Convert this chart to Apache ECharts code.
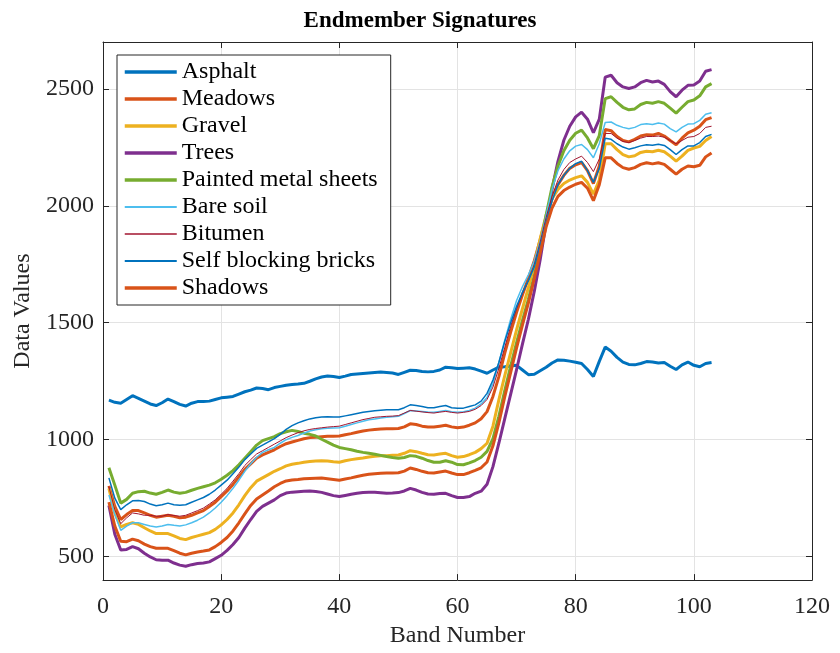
<!DOCTYPE html>
<html>
<head>
<meta charset="utf-8">
<script src="https://cdn.jsdelivr.net/npm/echarts@6/dist/echarts.min.js"></script>
<style>
html,body{margin:0;padding:0;background:#fff;}
#chart{width:840px;height:653px;}
</style>
</head>
<body>
<div id="chart"></div>
<script>
// Band numbers (x values)
var bands = Array.from({length: 103}, function (_, i) { return i + 1; });

var seriesNames = ['Asphalt', 'Meadows', 'Gravel', 'Trees', 'Painted metal sheets',
  'Bare soil', 'Bitumen', 'Self blocking bricks', 'Shadows'];

var asphalt = [1169,1160,1156,1172,1188,1177,1165,1153,1146,1158,
  1174,1163,1151,1144,1156,1163,1163,1165,1172,1179,
  1182,1185,1195,1205,1212,1221,1219,1214,1223,1228,
  1233,1236,1238,1241,1250,1260,1268,1272,1270,1266,
  1272,1279,1281,1283,1285,1287,1289,1287,1285,1279,
  1288,1297,1296,1292,1290,1292,1298,1310,1308,1304,
  1306,1308,1302,1293,1284,1298,1310,1312,1315,1318,
  1298,1278,1280,1295,1310,1328,1341,1340,1336,1331,
  1326,1300,1270,1335,1396,1378,1352,1332,1322,1320,
  1326,1334,1332,1328,1330,1314,1300,1320,1332,1318,
  1312,1326,1330];

var meadows = [803,715,659,680,697,697,687,677,669,673,
  677,673,666,669,677,687,697,715,733,757,
  781,809,841,873,897,921,935,946,957,971,
  983,990,997,1004,1009,1011,1013,1015,1015,1016,
  1021,1026,1032,1037,1041,1044,1046,1047,1047,1048,
  1055,1068,1065,1058,1054,1054,1058,1062,1055,1051,
  1054,1062,1072,1090,1120,1185,1270,1370,1460,1545,
  1620,1690,1765,1855,1950,2030,2090,2130,2160,2175,
  2185,2150,2095,2170,2326,2321,2296,2279,2273,2284,
  2298,2304,2302,2309,2298,2279,2261,2289,2312,2323,
  2340,2368,2377];

var gravel = [792,687,627,638,645,638,624,610,599,599,
  599,589,578,573,582,589,596,603,617,636,
  659,687,722,761,795,823,837,851,865,876,
  888,895,899,904,907,909,910,909,906,904,
  910,915,919,922,926,929,931,932,934,935,
  942,953,949,942,936,935,939,942,932,925,
  928,936,946,962,985,1058,1170,1274,1372,1470,
  1561,1650,1750,1860,1960,2030,2070,2095,2110,2120,
  2128,2100,2050,2110,2265,2265,2240,2219,2209,2214,
  2228,2233,2231,2237,2231,2212,2191,2212,2237,2247,
  2254,2279,2296];

var trees = [719,596,529,531,543,534,515,499,487,485,
  485,473,464,459,466,471,473,478,492,506,
  527,552,582,622,659,694,715,729,743,761,
  772,776,778,780,781,779,775,768,761,757,
  762,767,771,774,775,775,773,771,772,774,
  781,792,785,775,768,767,770,771,761,753,
  753,757,771,780,810,885,985,1090,1195,1300,
  1410,1515,1635,1770,1925,2070,2190,2280,2340,2380,
  2400,2370,2312,2370,2550,2558,2526,2508,2501,2508,
  2526,2536,2529,2533,2519,2488,2466,2494,2515,2516,
  2533,2575,2582];

var paintedMetal = [880,806,729,745,771,778,780,772,767,775,
  785,776,771,775,784,792,799,806,816,831,
  848,868,893,921,949,977,996,1005,1013,1026,
  1034,1040,1035,1028,1023,1016,1002,990,977,967,
  962,957,951,946,942,938,933,928,924,921,
  924,932,929,921,911,904,904,910,904,894,
  893,901,911,925,950,1005,1100,1210,1315,1415,
  1510,1600,1700,1820,1960,2080,2170,2235,2280,2310,
  2323,2290,2244,2300,2458,2466,2442,2421,2410,2414,
  2433,2442,2438,2445,2438,2417,2396,2421,2445,2452,
  2470,2508,2522];

var bareSoil = [764,680,613,631,645,645,638,631,627,631,
  638,634,631,636,645,656,669,687,708,733,
  761,792,827,865,897,925,946,957,967,985,
  1000,1010,1018,1028,1037,1043,1047,1049,1050,1051,
  1058,1065,1072,1079,1085,1089,1093,1096,1098,1100,
  1112,1125,1123,1121,1118,1117,1121,1125,1120,1117,
  1120,1125,1135,1153,1180,1240,1330,1425,1515,1595,
  1655,1705,1765,1850,1960,2070,2150,2200,2235,2255,
  2262,2240,2205,2265,2356,2358,2344,2335,2329,2335,
  2347,2351,2347,2354,2349,2330,2316,2335,2349,2351,
  2365,2391,2398];

var bitumen = [799,701,641,666,687,683,677,677,673,673,
  680,676,673,677,687,697,708,725,743,767,
  792,823,855,890,915,939,953,967,981,995,
  1009,1020,1030,1038,1044,1048,1051,1054,1056,1058,
  1065,1072,1079,1086,1091,1096,1098,1100,1101,1103,
  1114,1125,1122,1119,1116,1114,1118,1121,1117,1114,
  1117,1121,1130,1146,1172,1225,1305,1395,1485,1560,
  1625,1680,1750,1845,1950,2040,2110,2155,2185,2200,
  2212,2185,2146,2200,2309,2309,2289,2275,2270,2279,
  2289,2296,2296,2298,2293,2279,2265,2279,2293,2296,
  2309,2335,2340];

var selfBlocking = [837,750,701,722,739,740,736,725,718,722,
  729,722,720,722,733,743,753,767,785,806,
  827,855,883,915,939,963,977,991,1005,1023,
  1044,1060,1072,1081,1089,1094,1097,1098,1097,1097,
  1102,1107,1112,1117,1121,1124,1126,1128,1128,1128,
  1137,1149,1146,1142,1137,1137,1142,1146,1137,1135,
  1135,1142,1149,1165,1198,1255,1330,1420,1500,1570,
  1630,1680,1740,1830,1930,2020,2090,2130,2160,2180,
  2190,2150,2100,2160,2289,2284,2265,2251,2242,2248,
  2256,2261,2259,2263,2258,2240,2219,2240,2256,2256,
  2270,2296,2305];

var shadows = [733,631,566,564,575,568,554,543,536,536,
  536,526,515,508,515,520,524,529,543,561,
  582,610,645,683,719,747,764,781,799,813,
  824,828,830,833,834,835,836,833,830,827,
  832,837,843,848,852,855,857,858,858,859,
  866,879,873,865,859,858,862,866,858,851,
  851,859,869,880,905,974,1072,1184,1288,1393,
  1491,1585,1690,1800,1910,1990,2040,2065,2080,2092,
  2100,2075,2022,2090,2205,2205,2181,2163,2156,2163,
  2177,2184,2179,2184,2177,2156,2135,2156,2170,2167,
  2173,2209,2226];

var xTicks = [0, 20, 40, 60, 80, 100, 120];
var yTicks = [500, 1000, 1500, 2000, 2500];

var allValues = [asphalt, meadows, gravel, trees, paintedMetal, bareSoil, bitumen, selfBlocking, shadows];
var colors = ['#0072BD', '#D95319', '#EDB120', '#7E2F8E', '#77AC30', '#4DBEEE', '#A2142F', '#0072BD', '#D95319'];
var widths = [3, 3, 3, 3, 3, 1.5, 1, 1.5, 3];

var FONT = '"Liberation Serif", "Times New Roman", serif';
var AX = '#262626';

function pairs(vals) {
  return vals.map(function (v, i) { return [bands[i], v]; });
}

var series = allValues.map(function (vals, k) {
  return {
    name: seriesNames[k],
    type: 'line',
    data: pairs(vals),
    xAxisIndex: 0,
    yAxisIndex: 0,
    symbol: 'none',
    showSymbol: false,
    smooth: false,
    lineStyle: { color: colors[k], width: widths[k] },
    itemStyle: { color: colors[k] },
    emphasis: { disabled: true },
    animation: false
  };
});

var legendData = seriesNames.map(function (n, k) {
  return { name: n, lineStyle: { color: colors[k], width: widths[k] + 0.5 } };
});

var chart = echarts.init(document.getElementById('chart'), null, { renderer: 'canvas' });
chart.setOption({
  animation: false,
  backgroundColor: '#fff',
  title: {
    text: 'Endmember Signatures',
    left: 'center',
    top: 5,
    textStyle: { fontFamily: FONT, fontSize: 23, fontWeight: 'bold', color: '#000' }
  },
  legend: {
    orient: 'vertical',
    left: 117,
    top: 55,
    data: legendData,
    backgroundColor: '#fff',
    borderColor: AX,
    borderWidth: 1,
    padding: [5, 13, 5, 6],
    itemWidth: 52,
    itemHeight: 14,
    itemGap: 3,
    itemStyle: { opacity: 0 },
    textStyle: { fontFamily: FONT, fontSize: 24, color: '#000' },
    z: 10
  },
  grid: { left: 103, right: 28, top: 42, bottom: 63 },
  xAxis: [{
    type: 'value',
    min: 0, max: 120, interval: 20,
    name: 'Band Number',
    nameLocation: 'middle',
    nameGap: 39,
    nameTextStyle: { fontFamily: FONT, fontSize: 24, color: AX },
    axisLine: { onZero: false, lineStyle: { color: AX, width: 1 } },
    axisTick: { inside: true, length: 6, lineStyle: { color: AX } },
    axisLabel: { fontFamily: FONT, fontSize: 24, color: AX, margin: 15 },
    splitLine: { show: true, lineStyle: { color: '#e3e3e3', width: 1 } }
  }, {
    type: 'value',
    position: 'top',
    min: 0, max: 120, interval: 20,
    axisLine: { onZero: false, lineStyle: { color: AX, width: 1 } },
    axisTick: { inside: true, length: 6, lineStyle: { color: AX } },
    axisLabel: { show: false },
    splitLine: { show: false }
  }],
  yAxis: [{
    type: 'value',
    min: 400, max: 2700,
    name: 'Data Values',
    nameLocation: 'middle',
    nameGap: 61,
    nameTextStyle: { fontFamily: FONT, fontSize: 24, color: AX },
    axisLine: { show: true, onZero: false, lineStyle: { color: AX, width: 1 } },
    axisTick: { show: true, inside: true, length: 6, lineStyle: { color: AX }, customValues: yTicks },
    axisLabel: { fontFamily: FONT, fontSize: 24, color: AX, margin: 9, customValues: yTicks,
      formatter: function (v) { return String(v); } },
    splitLine: { show: true, lineStyle: { color: '#e3e3e3', width: 1 } }
  }, {
    type: 'value',
    position: 'right',
    min: 400, max: 2700,
    axisLine: { show: true, onZero: false, lineStyle: { color: AX, width: 1 } },
    axisTick: { show: true, inside: true, length: 6, lineStyle: { color: AX }, customValues: yTicks },
    axisLabel: { show: false },
    splitLine: { show: false }
  }],
  series: series
});
</script>
</body>
</html>
